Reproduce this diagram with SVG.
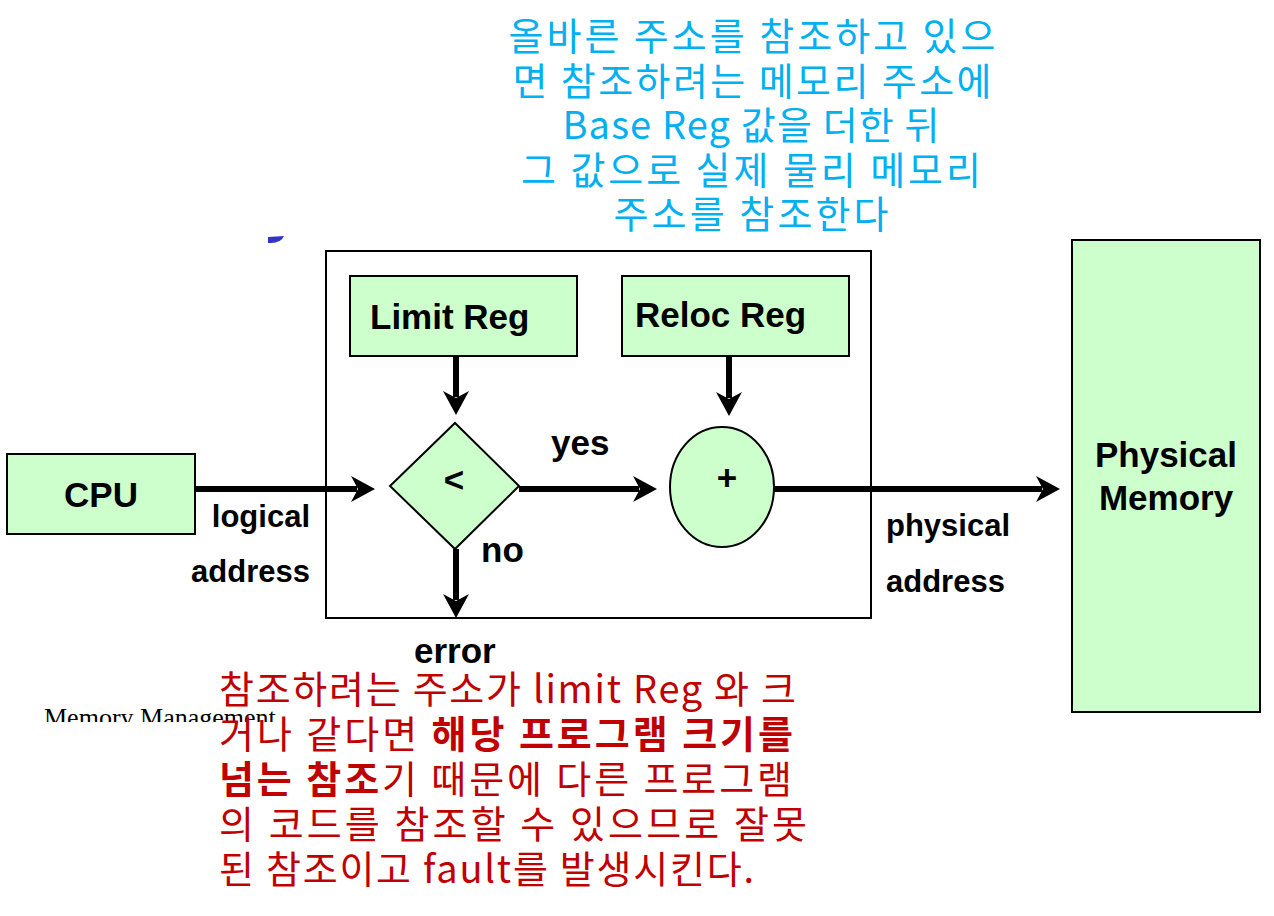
<svg xmlns="http://www.w3.org/2000/svg" width="1274" height="916" viewBox="0 0 1274 916">
<style>
.box{fill:#CCFFCC;stroke:#000;stroke-width:2}
.lbl{font-family:"Liberation Sans",Arial,sans-serif;font-weight:bold;font-size:35px;fill:#000}
.sm{font-size:31px}
.wire{stroke:#000;stroke-width:6;fill:none}
.ko{font-family:"Noto Sans CJK KR","Noto Sans",sans-serif;font-size:38px}
.blue{fill:#00B0F0;text-anchor:middle}
.red{fill:#C00000}
</style>
<defs>
<marker id="ah" markerUnits="userSpaceOnUse" viewBox="0 0 24 26" refX="6" refY="13" markerWidth="24" markerHeight="26" orient="auto">
<path d="M0,0 L24,13 L0,26 L7,13 Z" fill="#000"/>
</marker>
</defs>
<rect width="1274" height="916" fill="#fff"/>
<path d="M268,237 L284,236 Q281,243 271,243 L268,243 Z" fill="#3333CC"/>
<g id="frame"><rect x="326" y="251" width="545" height="367" fill="none" stroke="#000" stroke-width="2"/></g>
<g id="limit"><rect class="box" x="350" y="276" width="227" height="80"/><text class="lbl" x="370" y="329">Limit Reg</text></g>
<g id="reloc"><rect class="box" x="622" y="276" width="227" height="80"/><text class="lbl" x="635" y="327">Reloc Reg</text></g>
<g id="compare"><polygon class="box" points="455,423 519,486 455,549 390,486"/><text class="lbl" x="454" y="492" text-anchor="middle" font-size="30">&lt;</text></g>
<g id="adder"><ellipse class="box" cx="722" cy="487" rx="52" ry="60"/><text class="lbl" x="727" y="490" text-anchor="middle" font-size="30">+</text></g>
<g id="cpu"><rect class="box" x="7" y="454" width="188" height="80"/><text class="lbl" x="101" y="507" text-anchor="middle">CPU</text></g>
<g id="memory"><rect class="box" x="1072" y="240" width="188" height="472"/><text class="lbl" x="1166" y="467" text-anchor="middle">Physical</text><text class="lbl" x="1166" y="510" text-anchor="middle">Memory</text></g>
<g id="connectors">
<line class="wire" x1="195" y1="489" x2="357" y2="489" marker-end="url(#ah)"/>
<line class="wire" x1="519" y1="489" x2="639" y2="489" marker-end="url(#ah)"/>
<line class="wire" x1="774" y1="489" x2="1042" y2="489" marker-end="url(#ah)"/>
<line class="wire" x1="456" y1="356" x2="456" y2="397" marker-end="url(#ah)"/>
<line class="wire" x1="729" y1="356" x2="729" y2="398" marker-end="url(#ah)"/>
<line class="wire" x1="456" y1="549" x2="456" y2="600" marker-end="url(#ah)"/>
</g>
<g id="labels">
<text class="lbl sm" x="310" y="527" text-anchor="end">logical</text>
<text class="lbl sm" x="310" y="582" text-anchor="end">address</text>
<text class="lbl" x="551" y="455">yes</text>
<text class="lbl" x="481" y="562">no</text>
<text class="lbl" x="414" y="663">error</text>
<text class="lbl sm" x="886" y="536">physical</text>
<text class="lbl sm" x="886" y="592">address</text>
</g>
<text x="44" y="726" font-family="'Liberation Serif','Times New Roman',serif" font-size="26" fill="#000">Memory Management</text>
<rect x="40" y="722" width="260" height="12" fill="#fff"/>
<g id="note-blue" class="ko blue">
<text x="752" y="50" textLength="487" lengthAdjust="spacing">올바른 주소를 참조하고 있으</text>
<text x="752" y="95" textLength="479" lengthAdjust="spacing">면 참조하려는 메모리 주소에</text>
<text x="751" y="139" textLength="377" lengthAdjust="spacing">Base Reg 값을 더한 뒤</text>
<text x="751" y="184" textLength="460" lengthAdjust="spacing">그 값으로 실제 물리 메모리</text>
<text x="751" y="228" textLength="275" lengthAdjust="spacing">주소를 참조한다</text>
</g>
<g id="note-red" class="ko red">
<text x="219" y="703" textLength="577" lengthAdjust="spacing">참조하려는 주소가 limit Reg 와 크</text>
<text x="219" y="748" textLength="574" lengthAdjust="spacing">거나 같다면 <tspan font-weight="bold">해당 프로그램 크기를</tspan></text>
<text x="219" y="793" textLength="573" lengthAdjust="spacing"><tspan font-weight="bold">넘는 참조</tspan>기 때문에 다른 프로그램</text>
<text x="219" y="838" textLength="588" lengthAdjust="spacing">의 코드를 참조할 수 있으므로 잘못</text>
<text x="219" y="883" textLength="535" lengthAdjust="spacing">된 참조이고 fault를 발생시킨다.</text>
</g>
</svg>
